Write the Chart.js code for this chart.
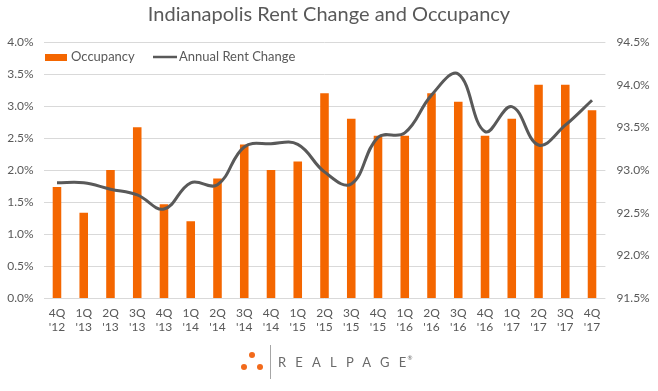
<!DOCTYPE html>
<html><head><meta charset="utf-8">
<script src="https://cdn.jsdelivr.net/npm/chart.js@4/dist/chart.umd.min.js"></script>
<style>
html,body{margin:0;padding:0;background:#fff;}
#wrap{position:relative;width:658px;height:391px;}
canvas{display:block;}
#logo{position:absolute;left:0;top:0;width:658px;height:391px;pointer-events:none;}
.dot{position:absolute;width:6px;height:6px;border-radius:50%;background:#f26a1b;}
.vbar{position:absolute;left:270px;top:345px;width:1px;height:34px;background:#a6a6a6;}
.brand{position:absolute;left:278px;top:354px;font:13px Lato, sans-serif;color:#6a6a6a;letter-spacing:9.2px;line-height:16px;}
.brand sup{font-size:6px;letter-spacing:0;vertical-align:top;line-height:8px;position:relative;left:-8px;}
</style></head>
<body>
<div id="wrap">
<canvas id="c" width="658" height="391"></canvas>
<div id="logo">
  <div class="dot" style="left:249px;top:352px"></div>
  <div class="dot" style="left:241px;top:364px"></div>
  <div class="dot" style="left:257px;top:364px"></div>
  <div class="vbar"></div>
  <div class="brand">REALPAGE<sup>®</sup></div>
</div>
</div>
<script>
const categories = [["4Q","'12"],["1Q","'13"],["2Q","'13"],["3Q","'13"],["4Q","'13"],["1Q","'14"],["2Q","'14"],["3Q","'14"],["4Q","'14"],["1Q","'15"],["2Q","'15"],["3Q","'15"],["4Q","'15"],["1Q","'16"],["2Q","'16"],["3Q","'16"],["4Q","'16"],["1Q","'17"],["2Q","'17"],["3Q","'17"],["4Q","'17"]];
const occupancy = [92.8,92.5,93.0,93.5,92.6,92.4,92.9,93.3,93.0,93.1,93.9,93.6,93.4,93.4,93.9,93.8,93.4,93.6,94.0,94.0,93.7];
const rentChange = [1.80,1.80,1.70,1.61,1.39,1.80,1.77,2.36,2.41,2.40,1.97,1.78,2.51,2.58,3.17,3.50,2.60,2.99,2.39,2.70,3.09];
const leftTicks = [0,0.5,1.0,1.5,2.0,2.5,3.0,3.5,4.0];
const rightTicks = [91.5,92.0,92.5,93.0,93.5,94.0,94.5];

const FONT = 'Lato, "Open Sans", sans-serif';
const TXT = '#595959';
const ORANGE = '#f46600';
const LINE = '#595959';

const legendPlugin = {
  id: 'insideLegend',
  afterDatasetsDraw(chart) {
    const ctx = chart.ctx;
    ctx.save();
    ctx.font = '13px ' + FONT;
    ctx.textBaseline = 'middle';
    const y = 57;
    ctx.fillStyle = ORANGE;
    ctx.fillRect(45, 54, 22, 7);
    ctx.fillStyle = TXT;
    ctx.fillText(chart.data.datasets[1].label, 71, y);
    ctx.strokeStyle = LINE;
    ctx.lineWidth = 2.5;
    ctx.beginPath(); ctx.moveTo(153, y); ctx.lineTo(177, y); ctx.stroke();
    ctx.fillText(chart.data.datasets[0].label, 179, y);
    ctx.restore();
  }
};

new Chart(document.getElementById('c'), {
  data: {
    labels: categories,
    datasets: [
      { type:'line', label:'Annual Rent Change', data: rentChange, yAxisID:'y',
        borderColor: LINE, borderWidth: 3, pointRadius: 0, tension: 0.4, fill:false, order: 0 },
      { type:'bar', label:'Occupancy', data: occupancy, yAxisID:'y1',
        backgroundColor: ORANGE, categoryPercentage: 1.0, barPercentage: 0.32, order: 1 }
    ]
  },
  options: {
    responsive: false,
    animation: false,
    devicePixelRatio: 1,
    layout: { padding: { left: 0, right: 0, top: 0, bottom: 0 } },
    plugins: {
      legend: { display: false },
      tooltip: { enabled: false },
      title: { display: true, text: 'Indianapolis Rent Change and Occupancy', color: TXT,
        font: { family: FONT, size: 20, weight: 'normal' }, padding: { top: 3, bottom: 15 } }
    },
    scales: {
      x: {
        grid: { display: false, drawTicks: false },
        border: { display: false },
        ticks: { color: TXT, font: { family: FONT, size: 12 }, padding: 8, maxRotation: 0, autoSkip: false },
        afterFit(s) { s.height = 93; }
      },
      y: {
        position: 'left', min: 0, max: 4,
        grid: { color: '#d9d9d9', drawTicks: false },
        border: { display: false },
        afterBuildTicks(s) { s.ticks = leftTicks.map(v => ({ value: v })); },
        ticks: { color: TXT, font: { family: FONT, size: 12 }, padding: 10,
          callback: v => v.toFixed(1) + '%' },
        afterFit(s) { s.width = 43.6; }
      },
      y1: {
        position: 'right', min: 91.5, max: 94.5,
        grid: { display: false, drawTicks: false },
        border: { display: false },
        afterBuildTicks(s) { s.ticks = rightTicks.map(v => ({ value: v })); },
        ticks: { color: TXT, font: { family: FONT, size: 12 }, padding: 11,
          callback: v => v.toFixed(1) + '%' },
        afterFit(s) { s.width = 52.6; }
      }
    }
  },
  plugins: [legendPlugin]
});
</script>
</body></html>
